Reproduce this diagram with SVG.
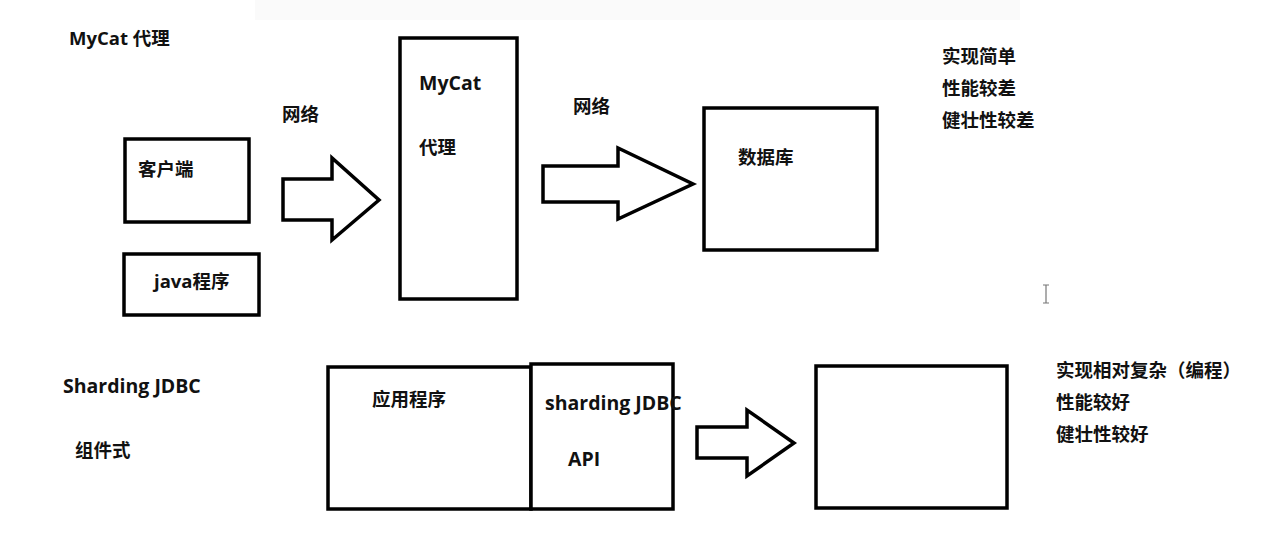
<svg xmlns="http://www.w3.org/2000/svg" width="1278" height="543" viewBox="0 0 1278 543">
<style>
.box{fill:#fff;stroke:#000;stroke-width:3.5}
.arrow{fill:#fff;stroke:#000;stroke-width:3.5;stroke-linejoin:miter}
text{font-family:"Open Sans","Noto Sans CJK SC",sans-serif;font-weight:700;font-size:18.5px;fill:#111}
.lat{font-size:19.5px}
</style>
<rect x="0" y="0" width="1278" height="543" fill="#fff"/>
<rect x="255" y="0" width="765" height="20" fill="#fafafa"/>
<g id="title-mycat"><text x="69" y="45">MyCat 代理</text></g>
<g id="client"><rect class="box" x="125" y="139" width="124" height="83"/><text x="138" y="176">客户端</text></g>
<g id="java"><rect class="box" x="124" y="254" width="135" height="61"/><text x="154" y="288">java程序</text></g>
<g id="mycat"><rect class="box" x="400" y="38" width="117" height="261"/><text class="lat" x="419" y="90">MyCat</text><text x="419" y="154">代理</text></g>
<g id="database"><rect class="box" x="704" y="108" width="173" height="142"/><text x="738" y="164">数据库</text></g>
<g id="mycat-notes"><text x="942" y="63">实现简单</text><text x="942" y="95">性能较差</text><text x="942" y="127">健壮性较差</text></g>
<g id="title-sharding"><text class="lat" x="63" y="393">Sharding JDBC</text><text x="75" y="457">组件式</text></g>
<g id="app"><rect class="box" x="328" y="367" width="203" height="142"/><text x="372" y="406">应用程序</text></g>
<g id="sharding"><rect class="box" x="531" y="364" width="142" height="145"/><text class="lat" x="545" y="410">sharding JDBC</text><text class="lat" x="568" y="466">API</text></g>
<g id="target"><rect class="box" x="816" y="366" width="191" height="142"/></g>
<g id="sharding-notes"><text x="1056" y="377">实现相对复杂（编程）</text><text x="1056" y="409">性能较好</text><text x="1056" y="441">健壮性较好</text></g>
<g id="connectors">
<polygon class="arrow" points="283,179 332,179 332,158 379,200 332,240 332,220 283,220"/>
<text x="282" y="121">网络</text>
<polygon class="arrow" points="543,166 618,166 618,148 693,184 618,219 618,202 543,202"/>
<text x="573" y="113">网络</text>
<polygon class="arrow" points="697,427 747,427 747,410 794,443 747,476 747,458 697,458"/>
</g>
<g id="cursor" stroke="#777" stroke-width="1.2" fill="none"><path d="M1043,285 h6 M1046,285 v18 M1043,303 h6"/></g>
</svg>
